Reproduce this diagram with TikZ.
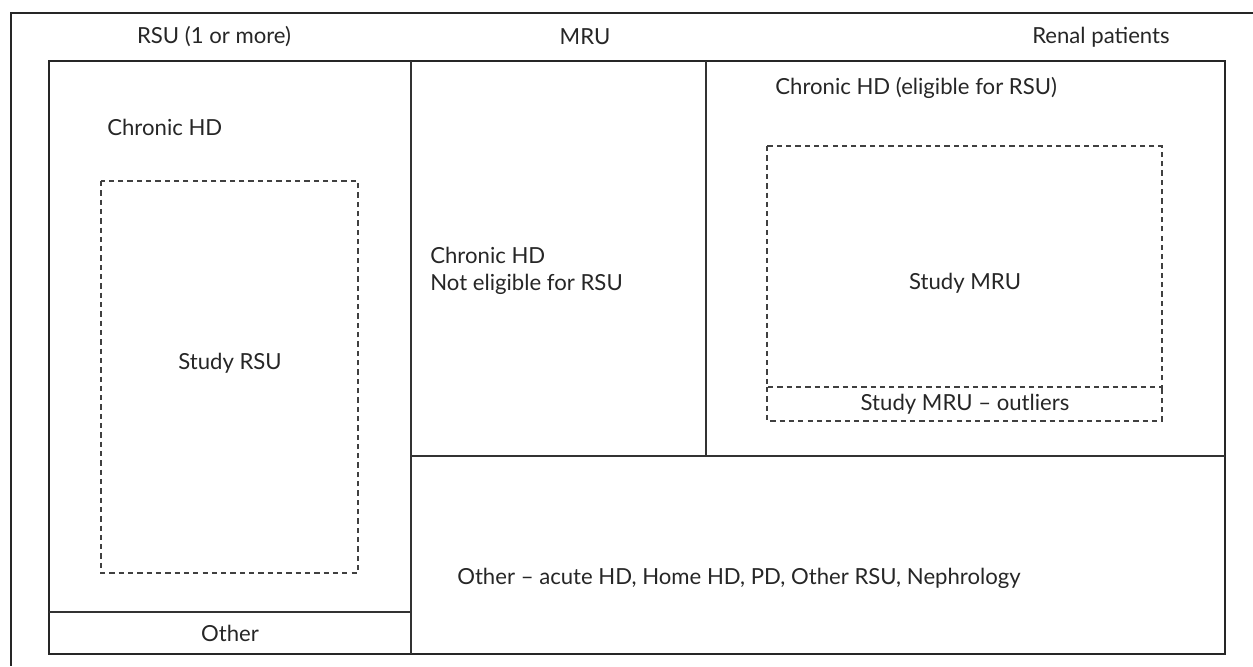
\documentclass[tikz,border=0pt]{standalone}
\usepackage{fontspec}
\setmainfont{Lato}
\usepackage{tikz}
\usetikzlibrary{positioning}
\usetikzlibrary{calc}

\tikzset{
	lbl/.style={inner sep=0pt, font=\fontsize{12.6}{15}\selectfont, text=black!85},
	frame/.style={draw=black!85, line width=1.2pt},
	split/.style={draw=black!80, line width=0.8pt},
	studybox/.style={draw=black!75, line width=0.6pt, dash pattern=on 3pt off 2.3pt}
}

\begin{document}
\begin{tikzpicture}[x=0.02cm, y=-0.02cm]
		\useasboundingbox (0,0) rectangle (1253,666);
		% outer frame, only top and left visible
		\draw [black!85, line width=0.6pt] (1253,13) -- (11,13) -- (11,666);
		% main box and its parts
		\coordinate (nw) at (49,61); \coordinate (se) at (1225,654);
		\draw [frame] (nw) rectangle (se);
		\draw [split] (411,61) -- (411,654);
		\draw [split] (49,612) -- (411,612);
		\draw [split] (411,456) -- (1225,456);
		\draw [split] (706,61) -- (706,456);
		% study boxes
		\draw [studybox] (101,181) rectangle (358,573);
		\draw [studybox] (767,146) rectangle (1162,387);
		\draw [studybox] (767,387) -- (767,421) -- (1162,421) -- (1162,387);
		% headings
		\node [lbl] at (214,37) (rsuhead) {RSU (1 or more)};
		\node [lbl] at (585,37) (mruhead) {MRU};
		\node [lbl, anchor=east] at (1170,37) (renalhead) {Renal patients};
		% RSU column
		\node [lbl, anchor=west] at (107,127) (rsuchron) {Chronic HD};
		\node [lbl] at (230,363) (rsustudy) {Study RSU};
		\node [lbl] at (230,633) (rsuother) {Other};
		% MRU column
		\node [lbl, anchor=west, align=left] at (430,271) (noteligi) {Chronic HD\\Not eligible for RSU};
		\node [lbl, anchor=west] at (775,88) (eligi) {Chronic HD (eligible for RSU)};
		\node [lbl] at (965,283) (mrustudy) {Study MRU};
		\node [lbl] at (965,404) (outlier) {Study MRU -- outliers};
		\node [lbl, anchor=west] at (457,578) (mruother) {Other -- acute HD, Home HD, PD, Other RSU, Nephrology};
		\end{tikzpicture}
\end{document}
